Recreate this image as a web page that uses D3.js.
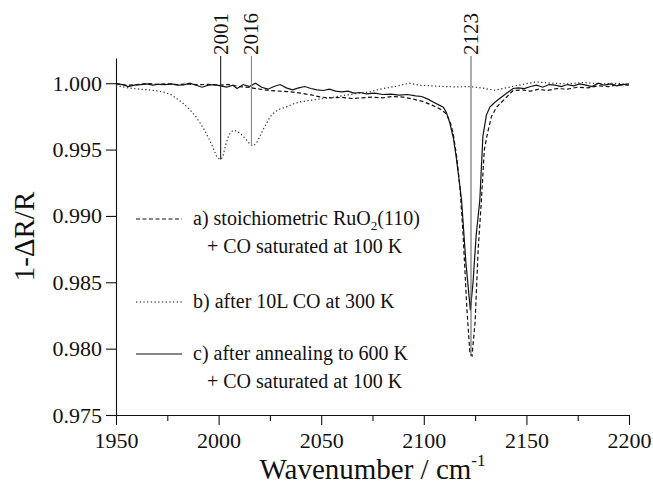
<!DOCTYPE html>
<html>
<head>
<meta charset="utf-8">
<script src="https://cdn.jsdelivr.net/npm/d3@7"></script>
<style>
  body { margin: 0; background: #fff; }
</style>
</head>
<body>
<div id="vis"></div>
<script>
// a) stoichiometric RuO2(110) + CO at 100 K (dashed)
const seriesA = [
  [1950, 0.99995], [1955, 0.99985], [1960, 0.99990], [1965, 0.99998], [1970, 0.99992],
  [1975, 0.99996], [1980, 0.99990], [1985, 0.99994], [1990, 0.99988], [1995, 0.99992],
  [2000, 0.99985], [2005, 0.99990], [2010, 0.99975], [2015, 0.99968], [2020, 0.99955],
  [2025, 0.99945], [2030, 0.99940], [2035, 0.99935], [2040, 0.99925], [2045, 0.99912],
  [2050, 0.99895], [2055, 0.99890], [2060, 0.99893], [2065, 0.99885], [2070, 0.99890],
  [2075, 0.99895], [2080, 0.99890], [2085, 0.99900], [2090, 0.99895], [2095, 0.99880],
  [2100, 0.99860], [2104, 0.99835], [2108, 0.99805], [2111, 0.99770], [2113, 0.99700],
  [2114.3, 0.99623], [2116, 0.99450], [2117.6, 0.99219], [2119, 0.98900], [2121, 0.98300],
  [2122.5, 0.97960], [2123.5, 0.97945], [2125, 0.98200], [2126.5, 0.98750], [2128, 0.99100],
  [2129.5, 0.99500], [2131, 0.99620], [2133, 0.99750], [2135.5, 0.99820], [2140, 0.99890],
  [2143.5, 0.99945], [2148, 0.99950], [2152, 0.99940], [2156, 0.99955], [2160, 0.99945],
  [2165, 0.99960], [2170, 0.99955], [2175, 0.99970], [2180, 0.99965], [2185, 0.99980],
  [2190, 0.99975], [2195, 0.99990], [2200, 0.99985]
];

// b) after 10L CO at 300 K (dotted)
const seriesB = [
  [1950, 0.99985], [1954, 0.99970], [1958, 0.99960], [1962, 0.99955], [1966, 0.99950],
  [1970, 0.99942], [1974, 0.99930], [1977, 0.99912], [1980, 0.99880], [1983, 0.99845],
  [1986, 0.99800], [1989, 0.99746], [1991, 0.99700], [1993, 0.99650], [1995, 0.99590],
  [1997, 0.99525], [1999, 0.99450], [2000.5, 0.99425], [2002, 0.99440], [2003.5, 0.99540],
  [2005, 0.99610], [2007, 0.99646], [2009, 0.99640], [2011, 0.99615], [2013.5, 0.99575],
  [2015.5, 0.99535], [2016.8, 0.99528], [2018.5, 0.99550], [2020, 0.99596], [2022, 0.99660],
  [2023.5, 0.99700], [2025, 0.99745], [2026.6, 0.99772], [2029, 0.99800], [2033, 0.99822],
  [2036, 0.99842], [2039.6, 0.99859], [2044, 0.99870], [2049, 0.99880], [2054, 0.99890],
  [2060, 0.99905], [2066, 0.99920], [2073.7, 0.99935], [2080, 0.99960], [2086, 0.99975],
  [2093, 1.00000], [2098, 0.99985], [2104, 0.99980], [2110, 0.99975], [2116, 0.99972],
  [2122, 0.99975], [2128, 0.99965], [2134.5, 0.99947], [2140, 0.99965], [2146, 0.99985],
  [2155, 1.00010], [2162, 1.00000], [2170, 0.99995], [2178, 1.00005], [2186, 0.99995],
  [2194, 1.00000], [2200, 0.99990]
];

// c) after annealing to 600 K + CO at 100 K (solid)
const seriesC = [
  [1950, 1.00000], [1953, 0.99990], [1956, 0.99975], [1959, 0.99985], [1962, 0.99990],
  [1965, 0.99995], [1968, 0.99985], [1971, 0.99992], [1974, 0.99990], [1977, 0.99995],
  [1980, 0.99985], [1983, 0.99988], [1986, 1.00000], [1989, 0.99985], [1992, 0.99970],
  [1995, 0.99985], [1998, 0.99990], [2001, 0.99980], [2004, 0.99970], [2007, 0.99985],
  [2009, 0.99960], [2012, 0.99990], [2015, 0.99975], [2018, 1.00000], [2021, 0.99970],
  [2024, 0.99955], [2027, 0.99975], [2030, 0.99990], [2033, 0.99965], [2036, 0.99950],
  [2039, 0.99965], [2042, 0.99975], [2045, 0.99960], [2048, 0.99950], [2051, 0.99945],
  [2054, 0.99955], [2057, 0.99940], [2060, 0.99935], [2063, 0.99940], [2066, 0.99925],
  [2069, 0.99930], [2072, 0.99920], [2076, 0.99925], [2080, 0.99915], [2084, 0.99918],
  [2088, 0.99910], [2092, 0.99915], [2096, 0.99905], [2099, 0.99900], [2102, 0.99880],
  [2105, 0.99855], [2107.5, 0.99835], [2109.5, 0.99820], [2111, 0.99780], [2112.7, 0.99700],
  [2114.5, 0.99580], [2116, 0.99420], [2118.4, 0.99120], [2120.5, 0.98650], [2122.7, 0.98290],
  [2124, 0.98500], [2125.5, 0.98850], [2127.3, 0.99120], [2128.8, 0.99600], [2130.5, 0.99760],
  [2132.2, 0.99820], [2134.5, 0.99855], [2137, 0.99885], [2140, 0.99920], [2143.5, 0.99960],
  [2146, 0.99965], [2149, 0.99960], [2152, 0.99975], [2155, 0.99985], [2158, 0.99970],
  [2161, 0.99990], [2164, 0.99985], [2167, 0.99975], [2170, 0.99990], [2173, 0.99980],
  [2176, 0.99995], [2179, 0.99985], [2182, 0.99975], [2185, 1.00000], [2188, 0.99985],
  [2191, 0.99995], [2194, 0.99980], [2197, 0.99990], [2200, 0.99995]
];

const xTicks = [1950, 2000, 2050, 2100, 2150, 2200];
const xMinorTicks = [1975, 2025, 2075, 2125, 2175];
const yTicks = [0.975, 0.980, 0.985, 0.990, 0.995, 1.000];

// peak markers: position and the depth they are drawn down to
const peakPositions = [2001, 2016, 2123];
const peakDepths = [0.99425, 0.99528, 0.97945];
const peakColors = ["#222", "#888", "#666"];

const legendRows = [
  { dash: "4,2.5", lines: [["a) stoichiometric RuO", "2", "(110)"], ["+ CO saturated at 100 K"]] },
  { dash: "1.3,2.4", lines: [["b) after 10L CO at 300 K"]] },
  { dash: null, lines: [["c) after annealing to 600 K"], ["+ CO saturated at 100 K"]] }
];

const FONT = "'Liberation Serif', Tinos, 'Times New Roman', 'DejaVu Serif', serif";

// == BOILERPLATE ==
const margin = { top: 58, right: 24, bottom: 71, left: 116 },
      width = 653 - margin.left - margin.right,
      height = 486 - margin.top - margin.bottom;

const svg = d3.select("#vis")
              .append("svg")
              .attr("width", 653)
              .attr("height", 486)
              .style("font-family", FONT);

const g = svg.append("g")
             .attr("transform", "translate(" + margin.left + "," + margin.top + ")");

const x = d3.scaleLinear().domain([1950, 2200]).range([0, width]);
const y = d3.scaleLinear().domain([0.975, 1.0019]).range([height, 0]);

// axes
const xMinor = g.append("g")
                .attr("transform", "translate(0," + height + ")")
                .call(d3.axisBottom(x).tickValues(xMinorTicks).tickSize(6).tickFormat(""));
xMinor.select(".domain").remove();

const xAxis = g.append("g")
               .attr("transform", "translate(0," + height + ")")
               .call(d3.axisBottom(x).tickValues(xTicks).tickSize(10).tickSizeOuter(0).tickPadding(7).tickFormat(d3.format("d")));

const yAxis = g.append("g")
               .call(d3.axisLeft(y).tickValues(yTicks).tickSize(10).tickSizeOuter(0).tickPadding(4).tickFormat(d3.format(".3f")));

g.selectAll(".tick text")
 .style("font-family", FONT)
 .style("font-size", "22px")
 .attr("fill", "#111");
xMinor.attr("font-family", null);
xAxis.attr("font-family", null);
yAxis.attr("font-family", null);

g.selectAll(".domain, .tick line").attr("stroke", "#111").attr("stroke-width", 1.1);

// axis titles
const xTitle = g.append("text")
                .attr("x", width / 2)
                .attr("y", height + 64)
                .attr("text-anchor", "middle")
                .style("font-family", FONT)
                .style("font-size", "29px")
                .attr("fill", "#111");
xTitle.append("tspan").text("Wavenumber / cm");
xTitle.append("tspan").attr("dy", -13).style("font-size", "17px").text("-1");

g.append("text")
 .attr("transform", "translate(" + (24 - margin.left) + "," + (height / 2) + ") rotate(-90)")
 .attr("text-anchor", "middle")
 .attr("dominant-baseline", "central")
 .style("font-family", FONT)
 .style("font-size", "29px")
 .attr("fill", "#111")
 .text("1-\u0394R/R");

// spectra
const line = d3.line()
               .x(function(d) { return x(d[0]); })
               .y(function(d) { return y(d[1]); });

const spectra = [
  { data: seriesB, dash: "1.3,2.4", color: "#333" },
  { data: seriesA, dash: "4,2.5", color: "#111" },
  { data: seriesC, dash: null, color: "#111" }
];

g.append("g")
 .selectAll("path")
 .data(spectra)
 .enter()
 .append("path")
 .attr("d", function(d) { return line(d.data); })
 .attr("fill", "none")
 .attr("stroke", function(d) { return d.color; })
 .attr("stroke-width", 1.2)
 .attr("stroke-dasharray", function(d) { return d.dash; });

// peak markers
const peaks = g.append("g")
               .selectAll("g")
               .data(peakPositions)
               .enter()
               .append("g");

peaks.append("line")
     .attr("x1", function(d) { return x(d); })
     .attr("x2", function(d) { return x(d); })
     .attr("y1", 56 - margin.top)
     .attr("y2", function(d, i) { return y(peakDepths[i]); })
     .attr("stroke", function(d, i) { return peakColors[i]; })
     .attr("stroke-width", 1.1);

peaks.append("text")
     .attr("transform", function(d) { return "translate(" + x(d) + "," + (55 - margin.top) + ") rotate(-90)"; })
     .attr("text-anchor", "start")
     .attr("dominant-baseline", "central")
     .style("font-family", FONT)
     .style("font-size", "21px")
     .attr("fill", "#111")
     .text(function(d) { return d; });

// legend
const legendY = [219, 302, 354];
const legend = g.append("g");
legendRows.forEach(function(row, i) {
  const ly = legendY[i] - margin.top;
  legend.append("line")
        .attr("x1", 136 - margin.left)
        .attr("x2", 182 - margin.left)
        .attr("y1", ly)
        .attr("y2", ly)
        .attr("stroke", "#111")
        .attr("stroke-width", 1.2)
        .attr("stroke-dasharray", row.dash);
  row.lines.forEach(function(parts, j) {
    const t = legend.append("text")
                    .attr("x", (j === 0 ? 193 : 207) - margin.left)
                    .attr("y", ly + 6 + j * 28)
                    .style("font-family", FONT)
                    .style("font-size", "20px")
                    .attr("fill", "#111");
    t.append("tspan").text(parts[0]);
    if (parts.length > 1) {
      t.append("tspan").attr("dy", 5).style("font-size", "13px").text(parts[1]);
      t.append("tspan").attr("dy", -5).text(parts[2]);
    }
  });
});
</script>
</body>
</html>
